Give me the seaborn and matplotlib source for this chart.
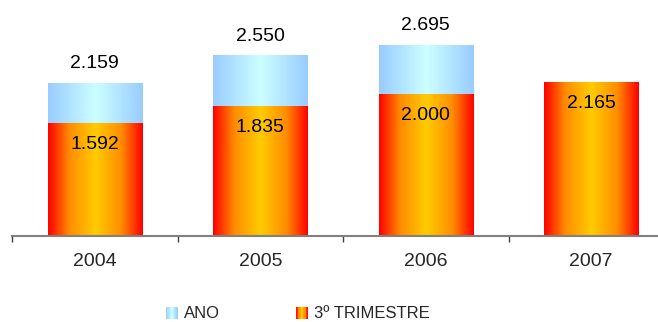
import numpy as np
import pandas as pd
import matplotlib
matplotlib.use("Agg")
import matplotlib.pyplot as plt
import seaborn as sns
from matplotlib.colors import LinearSegmentedColormap
from matplotlib.legend_handler import HandlerBase
from matplotlib.patches import Rectangle, Patch

# Data
years = ["2004", "2005", "2006", "2007"]
ano = [2159, 2550, 2695, None]
trimestre = [1592, 1835, 2000, 2165]
series_names = ["ANO", "3º TRIMESTRE"]


def fmt(v):
    return f"{v:,.0f}".replace(",", ".")


sns.set_theme(style="white")
plt.rcParams["font.family"] = ["Liberation Sans", "DejaVu Sans"]

# Horizontal gradients: value 0 = bar centre, 1 = bar edge
cmap_ano = LinearSegmentedColormap.from_list(
    "ano", [(0.0, "#CCFFFF"), (1.0, "#99CCFF")])
cmap_tri = LinearSegmentedColormap.from_list(
    "tri", [(0.0, "#FFCC00"), (0.55, "#FF8C00"), (1.0, "#FF0000")])

fig = plt.figure(figsize=(6.58, 3.22), dpi=100)
ax = fig.add_axes([12 / 658, 86 / 322, 662 / 658, 213 / 322])

df_ano = pd.DataFrame({"ano": years, "valor": ano}).dropna()
df_tri = pd.DataFrame({"ano": years, "valor": trimestre})

sns.barplot(data=df_ano, x="ano", y="valor", order=years, width=0.57,
            color=cmap_ano(0.5), ax=ax, zorder=2)
n_ano = len(ax.patches)
sns.barplot(data=df_tri, x="ano", y="valor", order=years, width=0.57,
            color=cmap_tri(0.5), ax=ax, zorder=3)

grad = np.abs(np.linspace(-1, 1, 256))[None, :]


def fill_gradient(patch, cmap):
    x0, y0 = patch.get_x(), patch.get_y()
    w, h = patch.get_width(), patch.get_height()
    if not np.isfinite(h) or h == 0:
        return
    img = ax.imshow(grad, cmap=cmap, vmin=0, vmax=1, aspect="auto",
                    interpolation="bilinear", extent=[x0, x0 + w, y0, y0 + h],
                    zorder=patch.get_zorder())
    img.set_clip_path(patch)
    patch.set_facecolor("none")
    patch.set_edgecolor("none")


for i, p in enumerate(ax.patches):
    fill_gradient(p, cmap_ano if i < n_ano else cmap_tri)

ax.set_xlim(-0.5, 3.5)
ax.set_ylim(0, 3000)

# Value labels
for i, v in enumerate(ano):
    if v is not None:
        ax.annotate(fmt(v), (i, v), xytext=(0, 13.5), textcoords="offset points",
                    ha="center", va="center", fontsize=14, color="black")
for i, v in enumerate(trimestre):
    ax.annotate(fmt(v), (i, v), xytext=(0, -15.5), textcoords="offset points",
                ha="center", va="center", fontsize=14, color="black", zorder=5)

# Axes styling
for s in ["top", "right", "left"]:
    ax.spines[s].set_visible(False)
ax.spines["bottom"].set_color("#808080")
ax.spines["bottom"].set_linewidth(1.5)
ax.spines["bottom"].set_zorder(6)
ax.set_yticks([])
ax.set_xlabel("")
ax.set_ylabel("")
ax.set_xticks(range(len(years)))
ax.set_xticklabels(years, fontsize=14)
ax.tick_params(axis="x", which="major", bottom=True, length=0, pad=12.5)
ax.set_xticks(np.arange(-0.5, len(years), 1.0), minor=True)
ax.tick_params(axis="x", which="minor", bottom=True, length=4, width=1,
               color="#404040", direction="out")


class GradientHandler(HandlerBase):
    def __init__(self, cmap):
        super().__init__()
        self.cmap = cmap

    def create_artists(self, legend, orig_handle, xdescent, ydescent,
                       width, height, fontsize, trans):
        n = 16
        arts = []
        for k in range(n):
            t = abs((k + 0.5) / n * 2 - 1)
            arts.append(Rectangle((-xdescent + width * k / n, -ydescent),
                                  width / n, height, facecolor=self.cmap(t),
                                  edgecolor="none", transform=trans))
        return arts


h_ano = Patch(label=series_names[0])
h_tri = Patch(label=series_names[1])
fig.legend([h_ano, h_tri], series_names, loc="center left",
           bbox_to_anchor=(166 / 658, 1 - 314 / 322), ncol=2, frameon=False,
           fontsize=12, handlelength=0.7, handleheight=0.7,
           handletextpad=0.35, columnspacing=4.6, borderpad=0,
           borderaxespad=0,
           handler_map={h_ano: GradientHandler(cmap_ano),
                        h_tri: GradientHandler(cmap_tri)})

fig.savefig("out.png", dpi=100)
